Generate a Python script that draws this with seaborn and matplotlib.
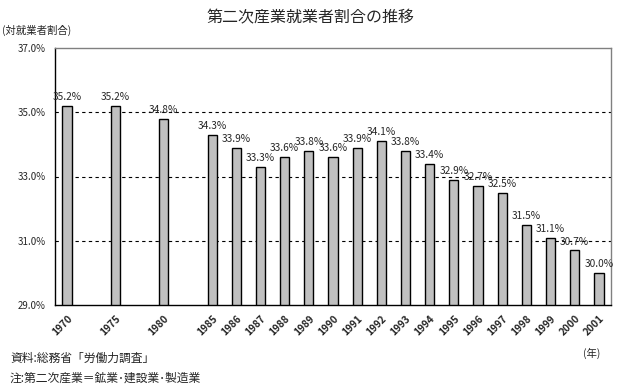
import numpy as np
import pandas as pd
import matplotlib
matplotlib.use("Agg")
import matplotlib.pyplot as plt
import seaborn as sns

# data (blank slots keep the gaps between 1970, 1975, 1980, 1985)
years = ["1970", "", "1975", " ", "1980", "  ", "1985", "1986", "1987", "1988",
         "1989", "1990", "1991", "1992", "1993", "1994", "1995", "1996",
         "1997", "1998", "1999", "2000", "2001"]
shares = [35.2, np.nan, 35.2, np.nan, 34.8, np.nan, 34.3, 33.9, 33.3, 33.6,
          33.8, 33.6, 33.9, 34.1, 33.8, 33.4, 32.9, 32.7,
          32.5, 31.5, 31.1, 30.7, 30.0]
y_ticks = [29.0, 31.0, 33.0, 35.0, 37.0]

df = pd.DataFrame({"year": years, "share": shares})

sns.set_style("white")
plt.rcParams["font.family"] = ["Noto Sans CJK JP", "DejaVu Sans"]

fig = plt.figure(figsize=(6.24, 3.88), dpi=100)
ax = fig.add_axes([55 / 624, 1 - 305 / 388, 556 / 624, 257 / 388])

sns.barplot(data=df, x="year", y="share", order=years, color="#c0c0c0",
            edgecolor="black", linewidth=1.0, width=0.38, ax=ax, saturation=1)

ax.set_ylim(29, 37)
ax.set_xlim(-0.5, len(years) - 0.5)
ax.set_yticks(y_ticks)
ax.set_yticklabels([f"{v:.1f}%" for v in y_ticks], fontsize=7)
for v in [31, 33, 35]:
    ax.axhline(v, color="black", linestyle=(0, (3, 3)), linewidth=0.8, zorder=0)

# value labels
for i, v in enumerate(shares):
    if not np.isnan(v):
        ax.text(i, v + 0.12, f"{v:.1f}%", ha="center", va="bottom", fontsize=7.3)

ax.set_xticks(range(len(years)))
ax.set_xticklabels(years, rotation=45, ha="right", rotation_mode="anchor",
                   fontsize=7.3, fontweight="bold")
ax.tick_params(axis="x", length=0, pad=6)
ax.set_xticks(np.arange(0.5, len(years) - 0.5, 1), minor=True)
ax.tick_params(axis="x", which="minor", direction="in", length=3, width=0.8)
ax.tick_params(axis="y", length=3, width=0.8, direction="out")
ax.set_xlabel("")
ax.set_ylabel("")

for s in ["left", "bottom"]:
    ax.spines[s].set_color("black")
    ax.spines[s].set_linewidth(1.0)
for s in ["top", "right"]:
    ax.spines[s].set_color("#808080")
    ax.spines[s].set_linewidth(1.0)

fig.text(310 / 624, 1 - 18 / 388, "第二次産業就業者割合の推移", ha="center",
         va="center", fontsize=11.5)
fig.text(2 / 624, 1 - 30 / 388, "(対就業者割合)", ha="left", va="center", fontsize=7.5)
fig.text(583 / 624, 1 - 353 / 388, "(年)", ha="left", va="center", fontsize=7.5)
fig.text(10 / 624, 1 - 358 / 388, "資料:総務省「労働力調査」", ha="left",
         va="center", fontsize=8.5)
fig.text(10 / 624, 1 - 378 / 388, "注:第二次産業＝鉱業･建設業･製造業", ha="left",
         va="center", fontsize=8.5)

fig.savefig("out.png", dpi=100)
